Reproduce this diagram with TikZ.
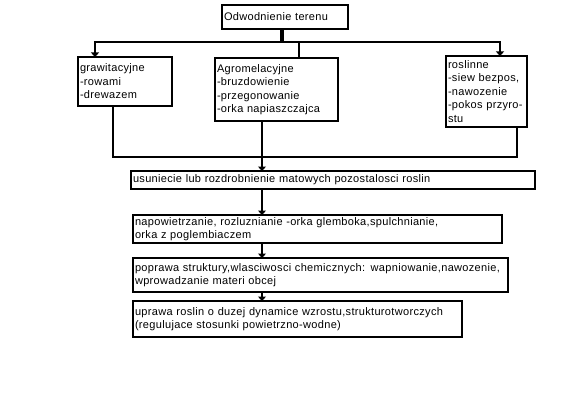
\documentclass[tikz,border=0pt]{standalone}
\usepackage{fontspec}
\setmainfont{Liberation Sans}[LetterSpace=3]
\usetikzlibrary{arrows.meta}
\begin{document}
\begin{tikzpicture}[x=1pt,y=-1pt,
  box/.style={draw, line width=2pt, anchor=north west, outer sep=0pt, inner xsep=2pt, inner ysep=0pt, align=left, font=\fontsize{11}{13.5}\selectfont},
  conn/.style={line width=2.5pt},
  stem/.style={line width=4pt},
  arr/.style={conn, -{Triangle[width=8pt,length=4.5pt]}}
]
\useasboundingbox (0,0) rectangle (580,404);
\fill[white] (0,0) rectangle (580,404);

\node[box, minimum width=126, minimum height=24, text width=122] (top) at (222,5) {Odwodnienie terenu};
\node[box, minimum width=94, minimum height=49, text width=90] (grav) at (78,57) {grawitacyjne\\-rowami\\-drewazem};
\node[box, minimum width=123, minimum height=63, text width=119] (agro) at (215,58) {Agromelacyjne\\-bruzdowienie\\-przegonowanie\\-orka napiaszczajca};
\node[box, minimum width=81, minimum height=71, text width=77] (rosl) at (446,56) {roslinne\\-siew bezpos,\\-nawozenie\\-pokos przyro-\\stu};
\node[box, minimum width=404, minimum height=18, text width=400] (usun) at (131,171) {usuniecie lub rozdrobnienie matowych pozostalosci roslin};
\node[box, minimum width=369, minimum height=28, text width=365] (napo) at (133,215) {napowietrzanie, rozluznianie -orka glemboka,spulchnianie,\\orka z poglembiaczem};
\node[box, minimum width=375, minimum height=34, text width=371] (popr) at (133,258) {poprawa struktury,wlasciwosci chemicznych: wapniowanie,nawozenie,\\wprowadzanie materi obcej};
\node[box, minimum width=329, minimum height=36, text width=325] (upra) at (133,301) {uprawa roslin o duzej dynamice wzrostu,strukturotworczych\\(regulujace stosunki powietrzno-wodne)};

\coordinate (bus) at (282,42);
\coordinate (busL) at (95,42);
\coordinate (busR) at (500,42);
\coordinate (busM) at (299,42);
\coordinate (gx) at (113,0);
\coordinate (rx) at (517,0);
\coordinate (loopy) at (0,157);
\coordinate (ax) at (262,0);

\draw[stem] (top.south -| bus) -- (bus);
\draw[conn] ([xshift=-1.25pt]busL) -- ([xshift=1.25pt]busR);
\draw[arr] (busL) -- (grav.north -| busL);
\draw[arr] (busR) -- (rosl.north -| busR);
\draw[conn] (busM) -- (agro.north -| busM);
\draw[conn] (grav.south -| gx) |- (loopy -| rx) -- (rosl.south -| rx);
\draw[arr] (agro.south -| ax) -- (usun.north -| ax);
\draw[arr] (usun.south -| ax) -- (napo.north -| ax);
\draw[arr] (napo.south -| ax) -- (popr.north -| ax);
\draw[arr] (popr.south -| ax) -- (upra.north -| ax);
\end{tikzpicture}
\end{document}
